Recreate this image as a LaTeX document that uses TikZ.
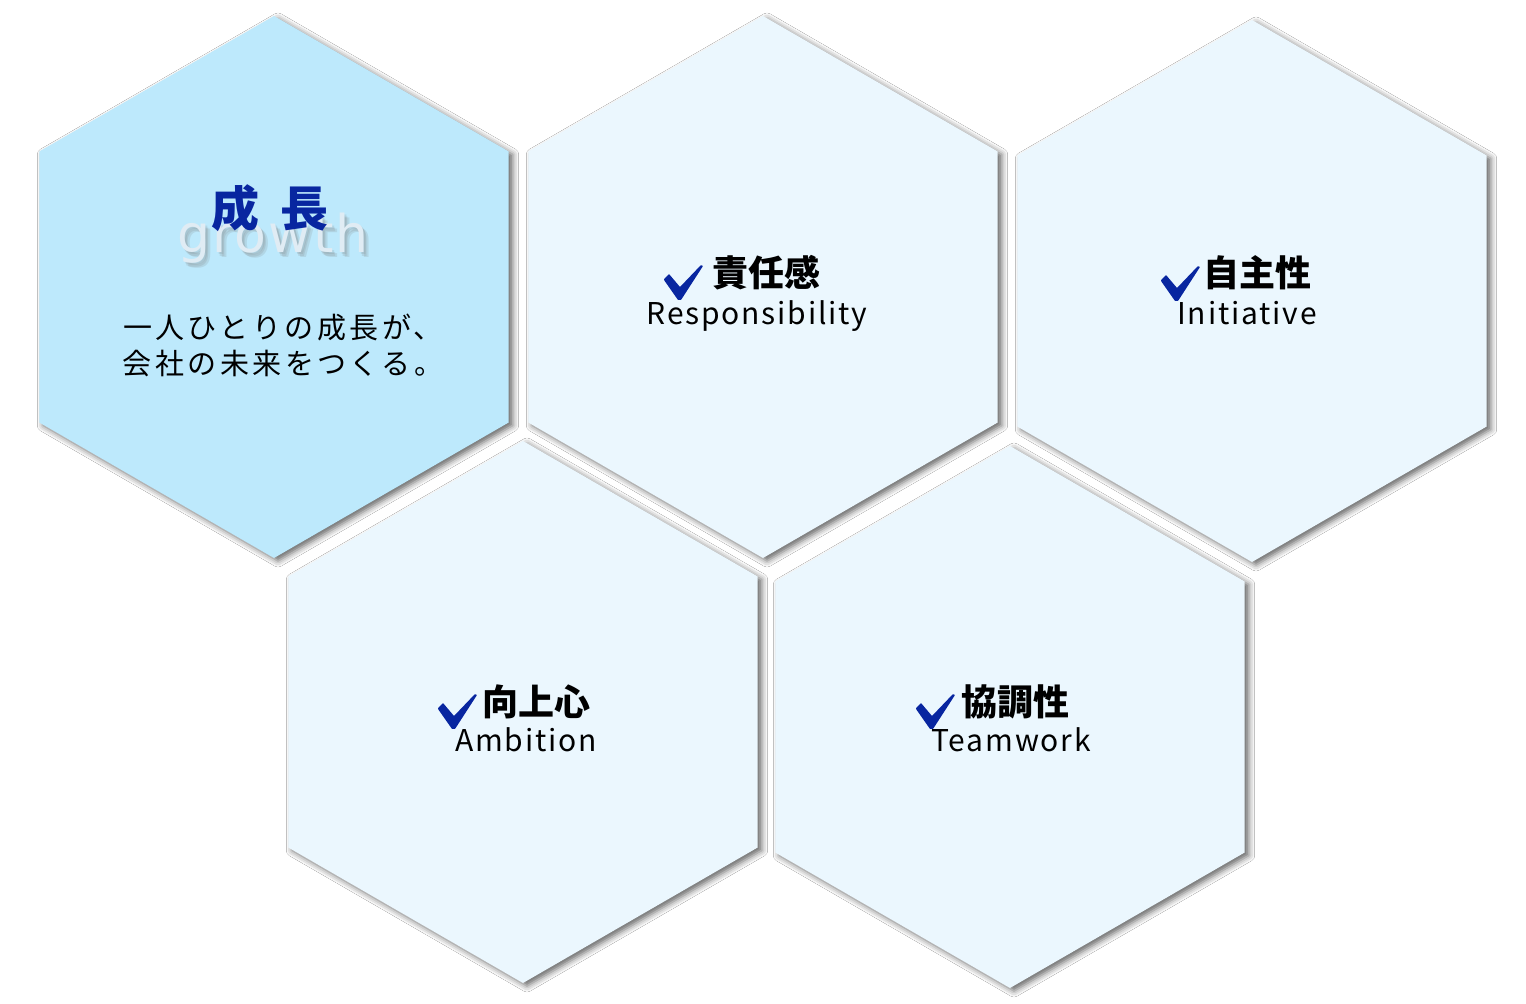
\documentclass[tikz,border=0pt]{standalone}
\usepackage{fontspec}
\setmainfont{Noto Sans CJK JP}
\newfontfamily\spacedfont[LetterSpace=6]{Noto Sans CJK JP}
\newfontfamily\bodyfont[LetterSpace=12]{Noto Sans CJK JP}
\newfontfamily\ghostfont[LetterSpace=4]{DejaVu Sans}
\usetikzlibrary{shapes.geometric,shadows.blur}
\definecolor{hexdark}{RGB}{189,233,252}
\definecolor{hexlight}{RGB}{235,247,254}
\definecolor{checkblue}{RGB}{8,38,160}
\definecolor{ghost}{RGB}{224,236,244}

\begin{document}
\begin{tikzpicture}
            [x=0.5pt,y=-0.5pt,
             hex/.style={regular polygon,regular polygon sides=6,shape border rotate=30,
               minimum size=271pt,inner sep=0pt,
               blur shadow={shadow xshift=2pt,shadow yshift=-1.5pt,shadow blur radius=3pt,shadow opacity=60}},
             tickmark/.pic={\fill[checkblue,rounded corners=0.3pt] (-19,-2) -- (-14,-7) -- (-3,6) -- (18,-16)
               -- (20,-15) -- (-2,19) -- (-5,19) -- (-19,-1) -- cycle;},
             kanji/.style={font=\bfseries\fontsize{18}{18}\selectfont,inner sep=0pt},
             english/.style={font=\spacedfont\fontsize{15}{15}\selectfont,inner sep=0pt,anchor=base},
             wordmark/.style={font=\ghostfont\fontsize{26}{26}\selectfont,inner sep=0pt}]
            \useasboundingbox[fill=white] (0,0) rectangle (1526,1004);
            % the honeycomb
            \node[hex,fill=hexdark] (1) at (274,287) {};
            \node[hex,fill=hexlight] (2) at (763,287) {};
            \node[hex,fill=hexlight] (3) at (1252,291) {};
            \node[hex,fill=hexlight] (4) at (523,712) {};
            \node[hex,fill=hexlight] (5) at (1010,717) {};
            % growth
            \node[wordmark,text=gray,opacity=.18] at (278,243) {growth};
            \node[wordmark,text=gray,opacity=.18] at (276,242) {growth};
            \node[wordmark,text=gray,opacity=.18] at (275,240) {growth};
            \node[wordmark,text=ghost] (g1) at (273,238) {growth};
            \node[text=checkblue,font=\bfseries\fontsize{24}{24}\selectfont] (t1) at (270,208) {成\hspace{0.45em}長};
            \node[align=center,font=\bodyfont\fontsize{14.5}{18}\selectfont] (b1) at (283,345) {一人ひとりの成長が、\\会社の未来をつくる。};
            % the values
            \pic at (683,281) {tickmark};
            \node[kanji] (k2) at (766,273) {責任感};
            \node[english] (e2) at (757,325) {Responsibility};
            \pic at (1180,282) {tickmark};
            \node[kanji] (k3) at (1257,273) {自主性};
            \node[english] (e3) at (1247,325) {Initiative};
            \pic at (457,710) {tickmark};
            \node[kanji] (k4) at (536,702) {向上心};
            \node[english] (e4) at (526,752) {Ambition};
            \pic at (935,710) {tickmark};
            \node[kanji] (k5) at (1015,702) {協調性};
            \node[english] (e5) at (1011,752) {Teamwork};
        \end{tikzpicture}
\end{document}
